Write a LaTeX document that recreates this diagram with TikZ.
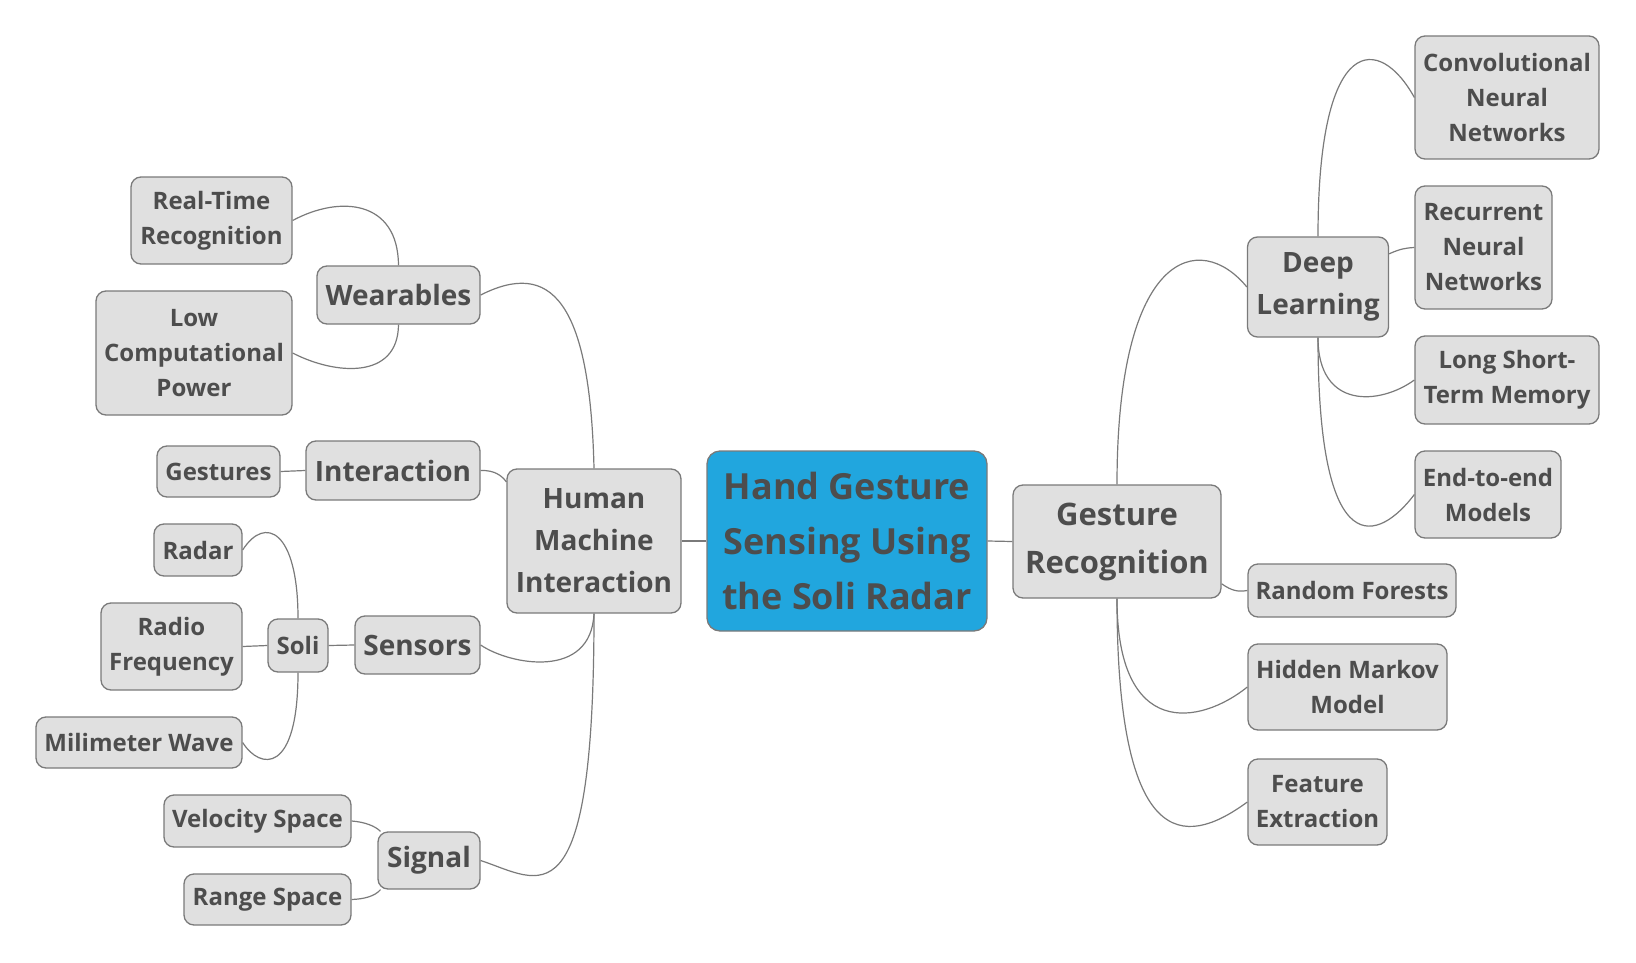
\documentclass[tikz,border=0pt]{standalone}
\usepackage{fontspec}
\setmainfont{Open Sans}
\usetikzlibrary{positioning}
\definecolor{boxfill}{HTML}{E0E0E0}
\definecolor{boxdraw}{HTML}{7A7A7A}
\definecolor{txt}{HTML}{4D4D4D}
\definecolor{rootblue}{HTML}{21A6DE}

\begin{document}
\begin{tikzpicture}[x=1pt,y=-1pt]
\tikzstyle{every node}+=[inner sep=0pt]
\tikzstyle{box}=[draw=boxdraw,line width=1.3pt,fill=boxfill,rounded corners=10pt,text=txt,align=center]
\tikzstyle{root}=[box,fill=rootblue,rounded corners=13pt,font=\bfseries\fontsize{36}{55}\selectfont]
\tikzstyle{main}=[box,font=\bfseries\fontsize{28}{42}\selectfont]
\tikzstyle{leaf}=[box,font=\bfseries\fontsize{24}{35}\selectfont]
\tikzstyle{link}=[draw=boxdraw,line width=1.2pt]
\useasboundingbox (0,0) rectangle (1636,963);
\node [root,minimum width=280pt,minimum height=180pt] (hgs) at (847,541) {Hand Gesture\\Sensing Using\\the Soli Radar};
\node [main,minimum width=174pt,minimum height=144pt] (hmi) at (594,541) {Human\\Machine\\Interaction};
\node [main,minimum width=208pt,minimum height=113pt,font=\bfseries\fontsize{31}{48}\selectfont] (gr) at (1117,541.5) {Gesture\\Recognition};
\node [main,minimum width=141pt,minimum height=100pt] (dl) at (1318,287) {Deep\\Learning};
\node [leaf,minimum width=184pt,minimum height=123pt] (cnn) at (1507,97.5) {Convolutional\\Neural\\Networks};
\node [leaf,minimum width=137pt,minimum height=123pt] (rnn) at (1483.5,247.5) {Recurrent\\Neural\\Networks};
\node [leaf,minimum width=184pt,minimum height=88pt] (lstm) at (1507,380) {Long Short-\\Term Memory};
\node [leaf,minimum width=146pt,minimum height=87pt] (e2e) at (1488,494.5) {End-to-end\\Models};
\node [leaf,minimum width=208pt,minimum height=53pt] (rf) at (1352,590.5) {Random Forests};
\node [leaf,minimum width=199pt,minimum height=86pt] (hmm) at (1347.5,687) {Hidden Markov\\Model};
\node [leaf,minimum width=139pt,minimum height=86pt] (fe) at (1317.5,802) {Feature\\Extraction};
\node [main,minimum width=163pt,minimum height=58pt] (wear) at (398.5,295) {Wearables};
\node [leaf,minimum width=161pt,minimum height=87pt] (rtr) at (211.5,220.5) {Real-Time\\Recognition};
\node [leaf,minimum width=196pt,minimum height=124pt] (lcp) at (194,353) {Low\\Computational\\Power};
\node [main,minimum width=174pt,minimum height=59pt] (inter) at (393,470.5) {Interaction};
\node [leaf,minimum width=123pt,minimum height=51pt] (gest) at (218.5,471.5) {Gestures};
\node [main,minimum width=125pt,minimum height=58pt] (sens) at (417.5,645) {Sensors};
\node [leaf,minimum width=60pt,minimum height=53pt] (soli) at (298,645.5) {Soli};
\node [leaf,minimum width=88pt,minimum height=52pt] (radar) at (198,550) {Radar};
\node [leaf,minimum width=141pt,minimum height=87pt] (radio) at (171.5,646.5) {Radio\\Frequency};
\node [leaf,minimum width=206pt,minimum height=51pt] (mmw) at (139,742.5) {Milimeter Wave};
\node [main,minimum width=102pt,minimum height=57pt] (sig) at (429,860.5) {Signal};
\node [leaf,minimum width=187pt,minimum height=52pt] (vel) at (257.5,821) {Velocity Space};
\node [leaf,minimum width=167pt,minimum height=51pt] (rng) at (267.5,899.5) {Range Space};
\draw [link] (hgs.west) -- (hmi.east);
\draw [link] (hgs.east) -- (gr.west);
\draw [link] (hmi.north) .. controls (590,299) and (550,260) .. (wear.east);
\draw [link] (hmi.146) .. controls (502,476) and (495,470) .. (inter.east);
\draw [link] (hmi.south) .. controls (591,680) and (510,665) .. (sens.east);
\draw [link] (hmi.south) .. controls (594,930) and (540,880) .. (sig.east);
\draw [link] (wear.north) .. controls (398,200) and (340,195) .. (rtr.east);
\draw [link] (wear.south) .. controls (398,380) and (335,375) .. (lcp.east);
\draw [link] (inter.west) -- (gest.east);
\draw [link] (sens.west) -- (soli.east);
\draw [link] (soli.north) .. controls (298,530) and (265,515) .. (radar.east);
\draw [link] (soli.west) -- (radio.east);
\draw [link] (soli.south) .. controls (298,775) and (260,770) .. (mmw.east);
\draw [link] (sig.149) .. controls (375,826) and (365,822) .. (vel.east);
\draw [link] (sig.-149) .. controls (375,896) and (365,899) .. (rng.east);
\draw [link] (gr.north) .. controls (1117,250) and (1200,230) .. (dl.west);
\draw [link] (gr.-22) .. controls (1232,591) and (1238,592) .. (rf.west);
\draw [link] (gr.south) .. controls (1117,740) and (1200,725) .. (hmm.west);
\draw [link] (gr.south) .. controls (1117,870) and (1195,840) .. (fe.west);
\draw [link] (dl.north) .. controls (1318,30) and (1380,35) .. (cnn.west);
\draw [link] (dl.25) .. controls (1400,249) and (1405,248) .. (rnn.west);
\draw [link] (dl.south) .. controls (1318,410) and (1380,405) .. (lstm.west);
\draw [link] (dl.south) .. controls (1318,570) and (1380,540) .. (e2e.west);
\end{tikzpicture}
\end{document}
